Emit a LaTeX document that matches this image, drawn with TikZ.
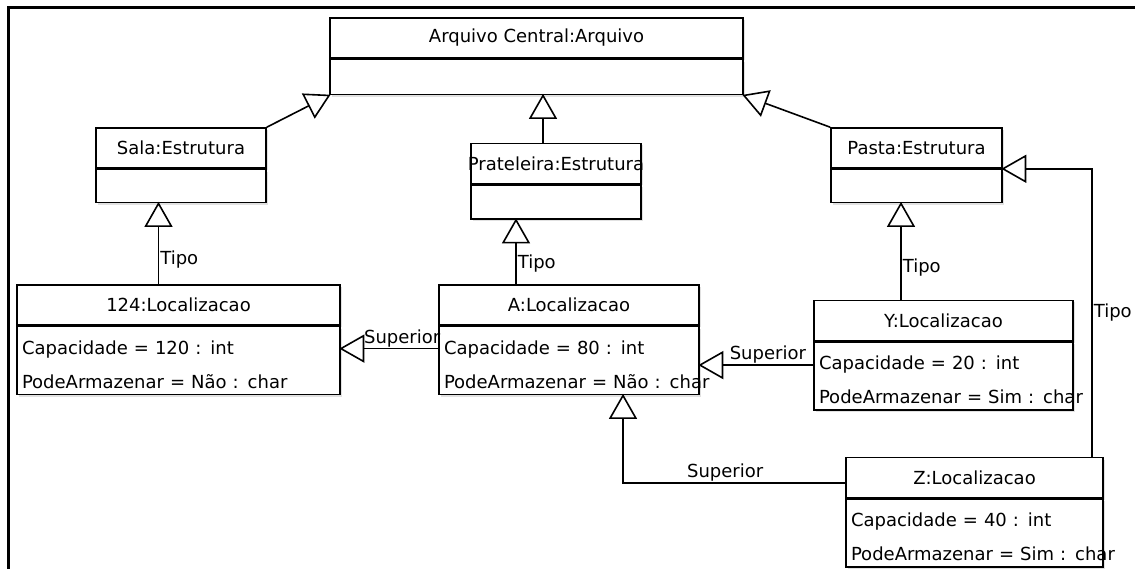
\documentclass[tikz,border=0pt]{standalone}
\usepackage{fontspec}
\setmainfont{DejaVu Sans}
\usetikzlibrary{arrows.meta,shadows}
\definecolor{shadowgray}{HTML}{c4c4c4}

\begin{document}
\begin{tikzpicture}[x=1pt, y=-1pt, font=\fontsize{18}{21}\selectfont]
    \useasboundingbox (0,0) rectangle (1135,569);
    \draw[line width=3pt] (8,569) -- (8,8) -- (1135,8);
    \begin{scope}[head/.style={draw,fill=white,line width=1.6pt,minimum height=40pt,inner sep=0pt,
            drop shadow={shadow xshift=2pt,shadow yshift=-2pt,fill=shadowgray}},
        body/.style={head,anchor=north,align=left,inner sep=5pt,font=\fontsize{18}{34}\selectfont}]

        \node[head, minimum width=413pt] (arq) at (536.5, 38) {Arquivo Central:Arquivo};
        \node[body, text width=403pt, minimum height=35pt] (arq-b) at (arq.south) {};

        \node[head, minimum width=170pt] (sala) at (181, 148) {Sala:Estrutura};
        \node[body, text width=160pt, minimum height=33pt] (sala-b) at (sala.south) {};
        \node[head, minimum width=170pt] (prat) at (556, 163.5) {\makebox[0pt]{Prateleira:Estrutura}};
        \node[body, text width=160pt, minimum height=34pt] (prat-b) at (prat.south) {};
        \node[head, minimum width=171pt] (pasta) at (916.5, 148) {Pasta:Estrutura};
        \node[body, text width=161pt, minimum height=33pt] (pasta-b) at (pasta.south) {};

        \node[head, minimum width=323pt] (loc124) at (178.5, 305) {124:Localizacao};
        \node[body, text width=313pt, minimum height=68pt] (loc124-b) at (loc124.south)
            {\rule{0pt}{22pt}\mbox{Capacidade = 120 : int}\\\mbox{PodeArmazenar = Não : char}};
        \node[head, minimum width=260pt] (locA) at (569, 305) {A:Localizacao};
        \node[body, text width=250pt, minimum height=68pt] (locA-b) at (locA.south)
            {\rule{0pt}{22pt}\mbox{Capacidade = 80 : int}\\\mbox{PodeArmazenar = Não : char}};
        \node[head, minimum width=259pt] (locY) at (943.5, 320.5) {Y:Localizacao};
        \node[body, text width=249pt, minimum height=68pt] (locY-b) at (locY.south)
            {\rule{0pt}{22pt}\mbox{Capacidade = 20 : int}\\\mbox{PodeArmazenar = Sim : char}};
        \node[head, minimum width=257pt] (locZ) at (974.5, 477.5) {Z:Localizacao};
        \node[body, text width=247pt, minimum height=68pt] (locZ-b) at (locZ.south)
            {\rule{0pt}{22pt}\mbox{Capacidade = 40 : int}\\\mbox{PodeArmazenar = Sim : char}};

        \begin{scope}[gen/.style={-{Triangle[open,length=25pt,width=28pt]},shorten >=-1.5pt},line width=1.6pt,
            every node/.style={inner sep=1pt}]
        % estruturas -> arquivo
        \draw[gen] (sala.north east) -- (arq-b.south west);
        \draw[gen] ([xshift=-13pt]prat.north) -- ([xshift=-13pt]prat.north |- arq-b.south);
        \draw[gen] (pasta.north west) -- (arq-b.south east);
        % tipo
        \draw[gen] ([xshift=-20pt]loc124.north) -- node[pos=0.3, anchor=west] {Tipo}
            ([xshift=-20pt]loc124.north |- sala-b.south);
        \draw[gen] ([xshift=-53pt]locA.north) -- node[pos=0.32, anchor=west] {Tipo}
            ([xshift=-53pt]locA.north |- prat-b.south);
        \draw[gen] ([xshift=-42.5pt]locY.north) -- node[pos=0.33, anchor=west] {Tipo}
            ([xshift=-42.5pt]locY.north |- pasta-b.south);
        \draw[gen] ([xshift=117.5pt]locZ.north) |- node[pos=0.25, anchor=west] {Tipo}
            (pasta.south east);
        % superior
        \draw[gen] ([yshift=12pt]locA-b.west) -- node[pos=0.37, above] {Superior}
            ([yshift=12pt]locA-b.west -| loc124-b.east);
        \draw[gen] ([yshift=11pt]locY-b.west) -- node[pos=0.4, above] {Superior}
            ([yshift=11pt]locY-b.west -| locA-b.east);
        \draw[gen] ([yshift=-5.5pt]locZ.west) -| node[pos=0.27, above] {Superior}
            ([xshift=54pt]locA-b.south);
        \end{scope}
    \end{scope}
\end{tikzpicture}
\end{document}
